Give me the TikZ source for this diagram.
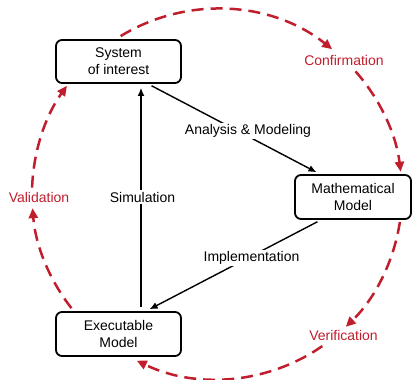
\documentclass[tikz,border=0pt]{standalone}
\usepackage{fontspec}
\setmainfont{Liberation Sans}
\usetikzlibrary{arrows.meta}
\definecolor{vred}{RGB}{192,30,45}
\begin{document}
\begin{tikzpicture}[x=1pt,y=1pt,
  box/.style={draw,line width=1.8pt,rounded corners=6pt,minimum width=125pt,minimum height=43pt,align=center,font=\fontsize{14}{17}\selectfont,inner sep=0pt},
  lbl/.style={font=\fontsize{14}{17}\selectfont,fill=white,inner sep=1.5pt},
  rlbl/.style={font=\fontsize{14}{17}\selectfont,text=vred,inner sep=1pt},
  blk/.style={line width=1.4pt,-{Latex[length=8pt,width=7pt]},shorten >=4pt,shorten <=4pt},
  vv/.style={draw=vred,line width=2.5pt,dash pattern=on 12pt off 7pt,-{Triangle[length=10pt,width=9pt]}}]
\useasboundingbox (0,0) rectangle (415,380);
\node[box] (sys) at (118.5,318.5) {System\\of interest};
\node[box,minimum width=116pt,minimum height=44pt] (math) at (353,183) {Mathematical\\Model};
\node[box,minimum height=44pt] (exe) at (118.5,46) {Executable\\Model};
% black connectors
\draw[blk] ([xshift=22.5pt]exe.north) -- ([xshift=22.5pt]sys.south);
\draw[blk] ([xshift=29.5pt]sys.south) -- ([xshift=-33pt]math.north);
\draw[blk] ([xshift=-32pt]math.south) -- ([xshift=27.5pt]exe.north);
\node[lbl] (sim) at (142.5,183) {Simulation};
\node[lbl] (ana) at (248,249) {Analysis \& Modeling};
\node[lbl] (imp) at (251.5,122) {Implementation};
% red cycle
\coordinate (c) at (217,186);
\draw[vv] ([shift={(c)}]121.4:185) arc[start angle=121.4,end angle=51.5,radius=185];
\draw[vv] ([shift={(c)}]41.5:185) arc[start angle=41.5,end angle=6.9,radius=185];
\draw[vv] ([shift={(c)}]-8.7:185) arc[start angle=-8.7,end angle=-45.9,radius=185];
\draw[vv] ([shift={(c)}]-55.3:185) arc[start angle=-55.3,end angle=-115.7,radius=185];
\draw[vv] ([shift={(c)}]218.1:185) arc[start angle=218.1,end angle=184.4,radius=185];
\draw[vv] ([shift={(c)}]178:185) arc[start angle=178,end angle=144.2,radius=185];
\node[rlbl] (conf) at (344,319) {Confirmation};
\node[rlbl] (val) at (39,183) {Validation};
\node[rlbl] (ver) at (343.5,45) {Verification};
\end{tikzpicture}
\end{document}
